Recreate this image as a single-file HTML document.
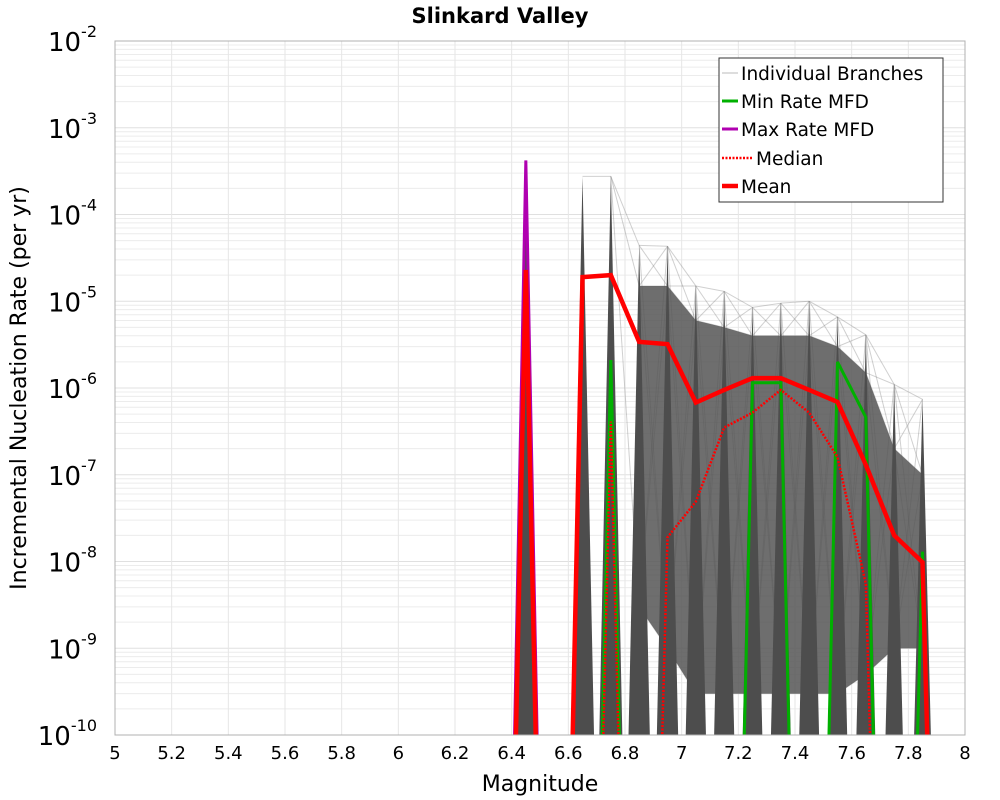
<!DOCTYPE html>
<html><head><meta charset="utf-8"><style>
html,body{margin:0;padding:0;background:#fff;overflow:hidden;}
svg{display:block;font-family:"DejaVu Sans","Liberation Sans",sans-serif;}
</style></head><body>
<svg id="chart" width="1000" height="800" viewBox="0 0 1000 800" xmlns="http://www.w3.org/2000/svg">
<text x="500" y="23" text-anchor="middle" font-size="21" font-weight="bold" fill="#000">Slinkard Valley</text>
<g id="grid"></g>
<g id="branches"></g>
<g id="series"></g>
<rect x="115" y="41" width="850" height="694" fill="none" stroke="#b0b0b0" stroke-width="1"/>
<g id="ticks"></g>
<text x="540" y="791" text-anchor="middle" font-size="22" fill="#000">Magnitude</text>
<text transform="translate(26,388) rotate(-90)" text-anchor="middle" font-size="22" fill="#000">Incremental Nucleation Rate (per yr)</text>
<g>
<rect x="719" y="58" width="224" height="144" fill="#fff" stroke="#333" stroke-width="1"/>
<line x1="722" y1="73" x2="738" y2="73" stroke="#bbb" stroke-width="1"/>
<text x="741" y="80" font-size="18.5">Individual Branches</text>
<line x1="722" y1="101" x2="738" y2="101" stroke="#00b000" stroke-width="3"/>
<text x="741" y="108" font-size="18.5">Min Rate MFD</text>
<line x1="722" y1="129" x2="738" y2="129" stroke="#b000b0" stroke-width="3"/>
<text x="741" y="136" font-size="18.5">Max Rate MFD</text>
<line x1="722" y1="158" x2="752" y2="158" stroke="#f00" stroke-width="2.5" stroke-dasharray="2,1.5"/>
<text x="756" y="165" font-size="18.5">Median</text>
<line x1="722" y1="186" x2="738" y2="186" stroke="#f00" stroke-width="4.5"/>
<text x="741" y="193" font-size="18.5">Mean</text>
</g>
</svg>
<script>
const magnitudes = [6.35,6.45,6.55,6.65,6.75,6.85,6.95,7.05,7.15,7.25,7.35,7.45,7.55,7.65,7.75,7.85,7.95];
const meanRates   = [0,2.3e-5,0,1.9e-5,2.0e-5,3.4e-6,3.2e-6,6.8e-7,9.5e-7,1.3e-6,1.3e-6,9.5e-7,6.9e-7,1.3e-7,2.0e-8,9.8e-9,0];
const medianRates = [0,2.0e-5,0,0,4.1e-7,0,1.9e-8,4.9e-8,3.5e-7,5.2e-7,9.5e-7,5.2e-7,1.6e-7,5.5e-9,0,0,0];
const minRates    = [0,0,0,0,2.1e-6,0,0,0,0,1.15e-6,1.15e-6,0,2.0e-6,4.6e-7,0,1.3e-8,0];
const maxRates    = [0,4.2e-4,0,0,0,0,0,0,0,0,0,0,0,0,0,0,0];
const branchMax   = [0,3.5e-4,0,2.75e-4,2.75e-4,4.4e-5,4.3e-5,1.5e-5,1.3e-5,8.5e-6,9.5e-6,1.0e-5,6.6e-6,4.1e-6,1.1e-6,7.4e-7,0];
const branchDenseTop = [0,0,0,0,0,1.5e-5,1.5e-5,6e-6,5e-6,4e-6,4e-6,4e-6,3e-6,1.5e-6,2e-7,1e-7,0];
const branchDenseBot = [0,0,0,0,0,3e-9,1e-9,3e-10,3e-10,3e-10,3e-10,3e-10,3e-10,5e-10,1e-9,1e-9,0];
const xTicks = [5,5.2,5.4,5.6,5.8,6,6.2,6.4,6.6,6.8,7,7.2,7.4,7.6,7.8,8];
const xTickLabels = ["5","5.2","5.4","5.6","5.8","6","6.2","6.4","6.6","6.8","7","7.2","7.4","7.6","7.8","8"];
const yDecades = [-2,-3,-4,-5,-6,-7,-8,-9,-10];

const NS="http://www.w3.org/2000/svg";
const X0=115,X1=965,Y0=41,Y1=735;
function xs(m){return X0+(m-5)/3*(X1-X0);}
function lg(v){return v>0?Math.log10(v):-20;}
function ys(v){return Y0+(-2-lg(v))/8*(Y1-Y0);}
function mk(tag,attrs,parent){const e=document.createElementNS(NS,tag);for(const k in attrs)e.setAttribute(k,attrs[k]);parent.appendChild(e);return e;}
const svg=document.getElementById('chart');
const defs=mk('defs',{},svg);const cp=mk('clipPath',{id:'clip'},defs);mk('rect',{x:X0,y:Y0,width:X1-X0,height:Y1-Y0},cp);
const grid=document.getElementById('grid');
for(let d=-10;d<-2;d++){for(let k=1;k<10;k++){const yy=ys(k*Math.pow(10,d));
 const l=mk('line',{x1:X0,x2:X1,y1:yy,y2:yy,stroke:k===1?'#e0e0e0':'#ececec','stroke-width':1},grid);
 
 }}
xTicks.forEach(t=>{const xx=xs(t);const l=mk('line',{x1:xx,x2:xx,y1:Y0,y2:Y1,stroke:'#e6e6e6','stroke-width':1},grid);
 
 });
const br=document.getElementById('branches');br.setAttribute('clip-path','url(#clip)');
for(let i=0;i<magnitudes.length-1;i++){
 const a=[branchMax[i],branchDenseTop[i],branchDenseBot[i]],b=[branchMax[i+1],branchDenseTop[i+1],branchDenseBot[i+1]];
 a.forEach(va=>{b.forEach(vb=>{if(va>0&&vb>0){const l=mk('line',{x1:xs(magnitudes[i]),y1:ys(va),x2:xs(magnitudes[i+1]),y2:ys(vb),stroke:'#777','stroke-width':1,'stroke-opacity':0.35},br);
  
  }});});
}
let pts=[],bot=[];
magnitudes.forEach((m,i)=>{if(branchDenseTop[i]>0){pts.push(xs(m)+','+ys(branchDenseTop[i]));bot.unshift(xs(m)+','+ys(branchDenseBot[i]));}});
const band=mk('polygon',{points:pts.concat(bot).join(' '),fill:'#555','fill-opacity':0.85},br);


magnitudes.forEach((m,i)=>{const up=branchMax[i];if(up<=0)return;const L=lg(up);
 const w=0.1*(L+10.3)/(L+20);
 const p=mk('polygon',{points:`${xs(m-w)},${Y1+5} ${xs(m)},${ys(up)} ${xs(m+w)},${Y1+5}`,fill:'#4d4d4d'},br);
 
 });
const ser=document.getElementById('series');ser.setAttribute('clip-path','url(#clip)');
function line(arr,color,w,dash,name){const d=magnitudes.map((m,i)=>xs(m)+','+ys(arr[i])).join(' ');
 const p=mk('polyline',{points:d,fill:'none',stroke:color,'stroke-width':w,'stroke-linejoin':'miter'},ser);
 if(dash)p.setAttribute('stroke-dasharray',dash);
 
 }
line(maxRates,'#b000b0',3,null,'max-rate-line');
line(minRates,'#00b000',3,null,'min-rate-line');
line(medianRates,'#f00',2.5,'2,1.5','median-line');
line(meanRates,'#f00',4.5,null,'mean-line');
const tk=document.getElementById('ticks');
xTicks.forEach((t,i)=>{const tx=mk('text',{x:xs(t),y:759,'text-anchor':'middle','font-size':18},tk);tx.textContent=xTickLabels[i];
 
 });
yDecades.forEach(d=>{const yy=ys(Math.pow(10,d));const tx=mk('text',{x:97,y:yy+10,'text-anchor':'end','font-size':26},tk);
 tx.textContent='10';
 const s=mk('tspan',{dy:-14,'font-size':16},tx);s.textContent=String(d);
 
 });
</script>
</body></html>
